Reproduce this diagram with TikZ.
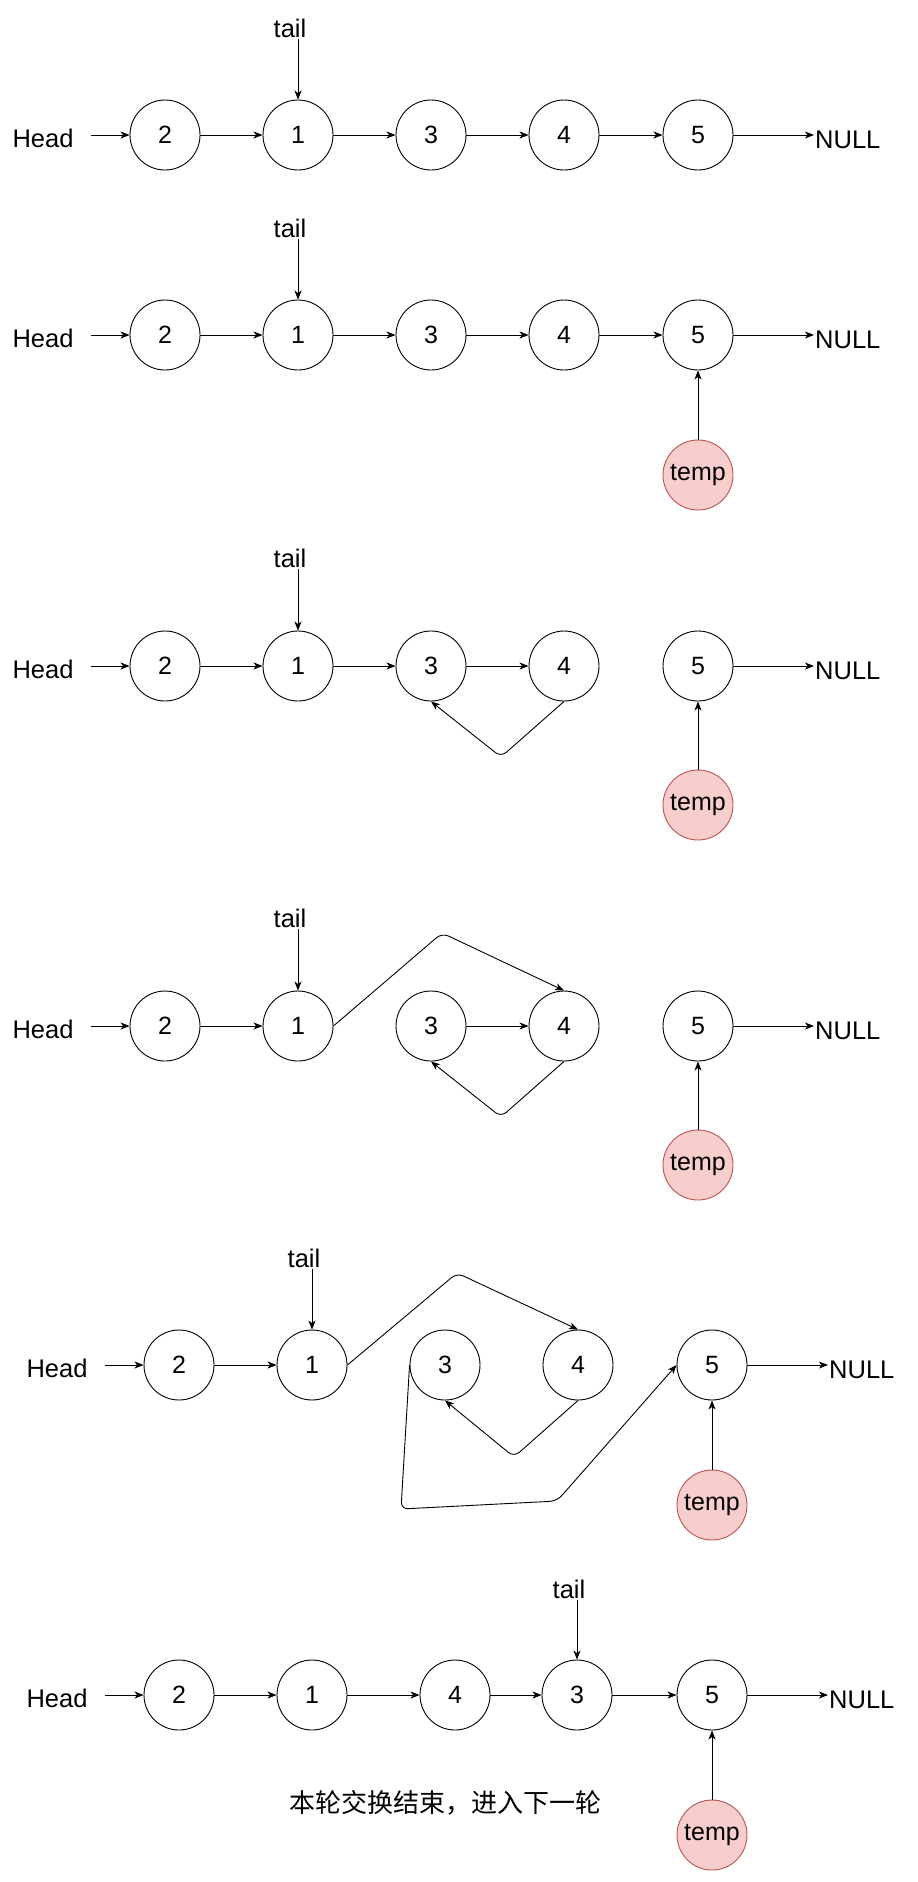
\documentclass[tikz,border=0pt]{standalone}
\usepackage{fontspec}
\setmainfont{Liberation Sans}
\newfontfamily\cjk{Noto Sans CJK SC}
\usetikzlibrary{arrows.meta}
\definecolor{tempfill}{HTML}{F8CECC}
\definecolor{tempdraw}{HTML}{B85450}
\tikzset{
 lnode/.style={circle, draw, line width=0.9pt, minimum size=70pt, inner sep=0pt, font=\fontsize{25}{28}\selectfont},
 tnode/.style={lnode, fill=tempfill, draw=tempdraw},
 lbl/.style={font=\fontsize{25.5}{29}\selectfont, inner sep=1pt},
 arr/.style={-{Stealth[length=9pt,width=7pt,inset=2.5pt]}, line width=0.9pt},
 bentarr/.style={arr, rounded corners=7pt},
}
\begin{document}
\begin{tikzpicture}[x=1pt,y=-1pt]
\useasboundingbox (0,0) rectangle (918,1882);

% ---------- Row 1 ----------
\node[lnode] (a2) at (165,135) {2};
\node[lnode] (a1) at (298,135) {1};
\node[lnode] (a3) at (431,135) {3};
\node[lnode] (a4) at (564,135) {4};
\node[lnode] (a5) at (698,135) {5};
\node[lbl] (ah) at (43,138) {Head};
\node[lbl, anchor=west] (an) at (814,140) {NULL};
\node[lbl] (at) at (290,28) {tail};
\draw[arr, shorten <=16pt] (ah.east |- a2) -- (a2);
\draw[arr] (a2) -- (a1);
\draw[arr] (a1) -- (a3);
\draw[arr] (a3) -- (a4);
\draw[arr] (a4) -- (a5);
\draw[arr] (a5.east) -- (a5.east -| an.west);
\draw[arr] (at.south -| a1) -- (a1.north);

% ---------- Row 2 ----------
\node[lnode] (b2) at (165,335) {2};
\node[lnode] (b1) at (298,335) {1};
\node[lnode] (b3) at (431,335) {3};
\node[lnode] (b4) at (564,335) {4};
\node[lnode] (b5) at (698,335) {5};
\node[tnode] (bt) at (698,475) {temp};
\node[lbl] (bh) at (43,338) {Head};
\node[lbl, anchor=west] (bn) at (814,340) {NULL};
\node[lbl] (btl) at (290,228) {tail};
\draw[arr, shorten <=16pt] (bh.east |- b2) -- (b2);
\draw[arr] (b2) -- (b1);
\draw[arr] (b1) -- (b3);
\draw[arr] (b3) -- (b4);
\draw[arr] (b4) -- (b5);
\draw[arr] (b5.east) -- (b5.east -| bn.west);
\draw[arr] (btl.south -| b1) -- (b1.north);
\draw[arr] (bt) -- (b5);

% ---------- Row 3 ----------
\node[lnode] (c2) at (165,666) {2};
\node[lnode] (c1) at (298,666) {1};
\node[lnode] (c3) at (431,666) {3};
\node[lnode] (c4) at (564,666) {4};
\node[lnode] (c5) at (698,666) {5};
\node[tnode] (ct) at (698,805) {temp};
\node[lbl] (ch) at (43,669) {Head};
\node[lbl, anchor=west] (cn) at (814,671) {NULL};
\node[lbl] (ctl) at (290,558) {tail};
\draw[arr, shorten <=16pt] (ch.east |- c2) -- (c2);
\draw[arr] (c2) -- (c1);
\draw[arr] (c1) -- (c3);
\draw[arr] (c3) -- (c4);
\draw[bentarr] (c4.south) -- (501,757) -- (c3.south);
\draw[arr] (c5.east) -- (c5.east -| cn.west);
\draw[arr] (ctl.south -| c1) -- (c1.north);
\draw[arr] (ct) -- (c5);

% ---------- Row 4 ----------
\node[lnode] (d2) at (165,1026) {2};
\node[lnode] (d1) at (298,1026) {1};
\node[lnode] (d3) at (431,1026) {3};
\node[lnode] (d4) at (564,1026) {4};
\node[lnode] (d5) at (698,1026) {5};
\node[tnode] (dt) at (698,1165) {temp};
\node[lbl] (dh) at (43,1029) {Head};
\node[lbl, anchor=west] (dn) at (814,1031) {NULL};
\node[lbl] (dtl) at (290,918) {tail};
\draw[arr, shorten <=16pt] (dh.east |- d2) -- (d2);
\draw[arr] (d2) -- (d1);
\draw[bentarr] (d1.east) -- (442,933) -- (d4.north);
\draw[arr] (d3) -- (d4);
\draw[bentarr] (d4.south) -- (501,1117) -- (d3.south);
\draw[arr] (d5.east) -- (d5.east -| dn.west);
\draw[arr] (dtl.south -| d1) -- (d1.north);
\draw[arr] (dt) -- (d5);

% ---------- Row 5 ----------
\node[lnode] (e2) at (179,1365) {2};
\node[lnode] (e1) at (312,1365) {1};
\node[lnode] (e3) at (445,1365) {3};
\node[lnode] (e4) at (578,1365) {4};
\node[lnode] (e5) at (712,1365) {5};
\node[tnode] (et) at (712,1505) {temp};
\node[lbl] (eh) at (57,1368) {Head};
\node[lbl, anchor=west] (en) at (828,1370) {NULL};
\node[lbl] (etl) at (304,1258) {tail};
\draw[arr, shorten <=16pt] (eh.east |- e2) -- (e2);
\draw[arr] (e2) -- (e1);
\draw[bentarr] (e1.east) -- (457,1273) -- (e4.north);
\draw[bentarr] (e4.south) -- (514,1457) -- (e3.south);
\draw[bentarr] (e3.west) -- (401,1509) -- (557,1501) -- (e5.west);
\draw[arr] (e5.east) -- (e5.east -| en.west);
\draw[arr] (etl.south -| e1) -- (e1.north);
\draw[arr] (et) -- (e5);

% ---------- Row 6 ----------
\node[lnode] (f2) at (179,1695) {2};
\node[lnode] (f1) at (312,1695) {1};
\node[lnode] (f4) at (455,1695) {4};
\node[lnode] (f3) at (577,1695) {3};
\node[lnode] (f5) at (712,1695) {5};
\node[tnode] (ft) at (712,1835) {temp};
\node[lbl] (fh) at (57,1698) {Head};
\node[lbl, anchor=west] (fn) at (828,1700) {NULL};
\node[lbl] (ftl) at (569,1589) {tail};
\draw[arr, shorten <=16pt] (fh.east |- f2) -- (f2);
\draw[arr] (f2) -- (f1);
\draw[arr] (f1) -- (f4);
\draw[arr] (f4) -- (f3);
\draw[arr] (f3) -- (f5);
\draw[arr] (f5.east) -- (f5.east -| fn.west);
\draw[arr] (ftl.south -| f3) -- (f3.north);
\draw[arr] (ft) -- (f5);
\node[font=\cjk\fontsize{26}{30}\selectfont, inner sep=0pt] (msg) at (445,1803) {本轮交换结束，进入下一轮};
\end{tikzpicture}
\end{document}
